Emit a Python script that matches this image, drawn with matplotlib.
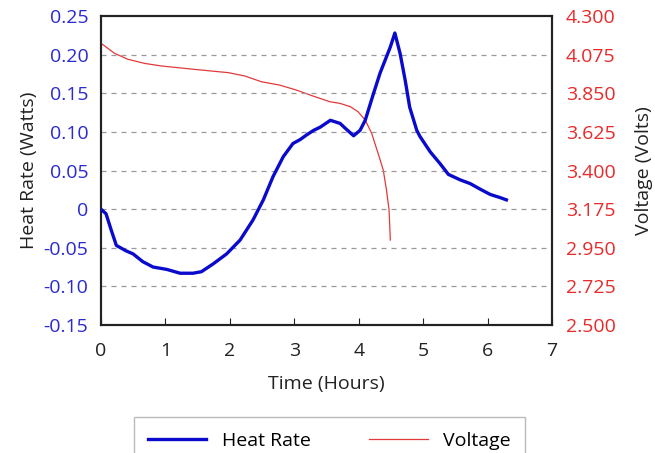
import numpy as np
import matplotlib
matplotlib.use("Agg")
import matplotlib.pyplot as plt

# heat rate curve (hours, watts)
heat_t = [0.00, 0.08, 0.16, 0.24, 0.39, 0.50, 0.65, 0.81, 1.02, 1.23, 1.43, 1.56,
          1.74, 1.95, 2.16, 2.36, 2.52, 2.67, 2.83, 2.98, 3.09, 3.19, 3.30, 3.40,
          3.56, 3.71, 3.80, 3.92, 4.02, 4.10, 4.23, 4.33, 4.49, 4.56, 4.64, 4.72,
          4.79, 4.90, 4.95, 5.11, 5.26, 5.39, 5.57, 5.73, 5.88, 6.04, 6.19, 6.29]
heat_w = [0.000, -0.006, -0.027, -0.047, -0.054, -0.058, -0.068, -0.075, -0.078,
          -0.083, -0.083, -0.081, -0.071, -0.058, -0.040, -0.014, 0.012, 0.042,
          0.068, 0.085, 0.090, 0.096, 0.102, 0.106, 0.115, 0.111, 0.104, 0.095,
          0.102, 0.115, 0.150, 0.176, 0.210, 0.228, 0.202, 0.167, 0.132, 0.102,
          0.094, 0.074, 0.059, 0.045, 0.038, 0.033, 0.026, 0.019, 0.015, 0.012]

# cell voltage (hours, volts)
volt_t = [0.00, 0.04, 0.21, 0.42, 0.68, 0.94, 1.46, 1.98, 2.24, 2.49, 2.77, 3.03,
          3.29, 3.55, 3.71, 3.87, 3.99, 4.10, 4.20, 4.30, 4.38, 4.43, 4.47, 4.49]
volt_v = [4.140, 4.131, 4.083, 4.048, 4.024, 4.009, 3.989, 3.970, 3.950, 3.917,
          3.898, 3.869, 3.834, 3.801, 3.791, 3.772, 3.742, 3.694, 3.617, 3.500,
          3.403, 3.286, 3.170, 2.995]

left_ticks = [-0.15, -0.10, -0.05, 0, 0.05, 0.10, 0.15, 0.20, 0.25]
left_labels = ['-0.15', '-0.10', '-0.05', '0', '0.05', '0.10', '0.15', '0.20', '0.25']
right_ticks = [2.5, 2.725, 2.95, 3.175, 3.4, 3.625, 3.85, 4.075, 4.3]
right_labels = ['2.500', '2.725', '2.950', '3.175', '3.400', '3.625', '3.850', '4.075', '4.300']

plt.rcParams['font.family'] = ['Open Sans', 'DejaVu Sans']
blue = '#0a0acc'
red = '#e23a3a'
tblue = '#2a2ad0'
tred = '#e82a2a'
fs = 14

fig = plt.figure(figsize=(6.55, 4.53), dpi=100)
ax = fig.add_axes([0.154, 0.2826, 0.689, 0.682])
ax2 = ax.twinx()

l1, = ax.plot(heat_t, heat_w, color=blue, lw=2.4, label='Heat Rate', zorder=3)
l2, = ax2.plot(volt_t, volt_v, color=red, lw=0.9, label='Voltage')
ax.set_zorder(ax2.get_zorder() + 1)
ax.patch.set_visible(False)

ax.set_xlim(0, 7)
ax.set_ylim(-0.15, 0.25)
ax2.set_ylim(2.5, 4.3)
ax.set_xticks(range(8))
ax.set_yticks(left_ticks)
ax.set_yticklabels(left_labels)
ax2.set_yticks(right_ticks)
ax2.set_yticklabels(right_labels)

for y in left_ticks[1:-1]:
    ax.axhline(y, color='#999999', lw=0.9, ls=(0, (4, 4)), zorder=1)

ax.tick_params(axis='x', direction='in', length=5, width=0.8, pad=12, labelsize=fs, colors='#222222')
ax.tick_params(axis='y', length=0, pad=9, labelsize=fs, labelcolor=tblue)
ax2.tick_params(axis='y', length=0, pad=10, labelsize=fs, labelcolor=tred)

for a in (ax, ax2):
    for s in a.spines.values():
        s.set_linewidth(1.5)
        s.set_color('#222222')

ax.set_xlabel('Time (Hours)', fontsize=fs, labelpad=11, color='#222222')
ax.set_ylabel('Heat Rate (Watts)', fontsize=fs, labelpad=4, color='#222222')
ax2.set_ylabel('Voltage (Volts)', fontsize=fs, labelpad=14, color='#222222', rotation=90)

leg = fig.legend(handles=[l1, l2], loc='upper center', bbox_to_anchor=(0.503, 0.0795),
                 ncol=2, fontsize=fs, frameon=True, fancybox=False,
                 edgecolor='#aaaaaa', handlelength=3.0, handletextpad=0.8,
                 columnspacing=3.0, borderpad=0.75, borderaxespad=0)
leg.get_frame().set_linewidth(1.0)

fig.savefig('out.png', dpi=100)
